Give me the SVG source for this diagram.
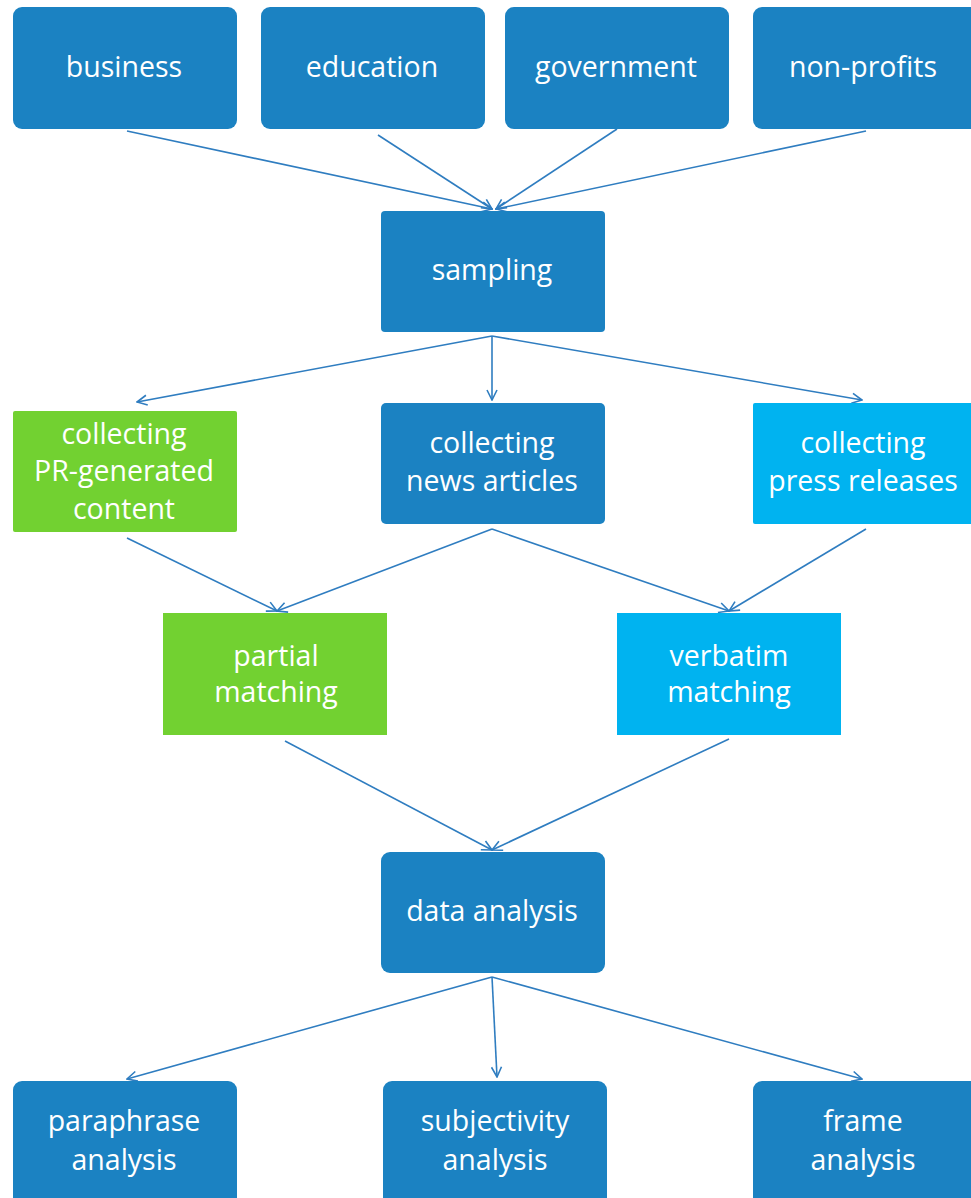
<svg xmlns="http://www.w3.org/2000/svg" width="971" height="1198" viewBox="0 0 971 1198">
<style>
.dk{fill:#1B82C2}
.gr{fill:#72D131}
.lb{fill:#00B3F0}
text{fill:#FFFFFF;font-family:"Open Sans","Noto Sans",sans-serif;font-size:28.5px;text-anchor:middle;dominant-baseline:central}
.c line{stroke:#2F7DC0;stroke-width:1.6;fill:none;marker-end:url(#ah)}
</style>
<defs>
<marker id="ah" viewBox="0 0 12 12" refX="11" refY="6" markerWidth="12" markerHeight="12" markerUnits="userSpaceOnUse" orient="auto">
<path d="M1,1 L11,6 L1,11" fill="none" stroke="#2F7DC0" stroke-width="1.6"/>
</marker>
</defs>
<g class="c" id="connectors">
<line x1="127" y1="131" x2="492" y2="209"/>
<line x1="378" y1="135" x2="492" y2="209"/>
<line x1="617" y1="129" x2="496" y2="209"/>
<line x1="866" y1="131" x2="496" y2="209"/>
<line x1="492" y1="336" x2="137" y2="402"/>
<line x1="492" y1="336" x2="492" y2="400"/>
<line x1="492" y1="336" x2="862" y2="400"/>
<line x1="127" y1="538" x2="277" y2="611"/>
<line x1="492" y1="529" x2="277" y2="611"/>
<line x1="492" y1="529" x2="729" y2="611"/>
<line x1="866" y1="529" x2="729" y2="611"/>
<line x1="285" y1="741" x2="492" y2="850"/>
<line x1="729" y1="739" x2="492" y2="850"/>
<line x1="492" y1="977" x2="127" y2="1079"/>
<line x1="492" y1="977" x2="497" y2="1077"/>
<line x1="492" y1="977" x2="862" y2="1079"/>
</g>
<g id="business"><rect class="dk" x="13" y="7" width="224" height="122" rx="9"/><text x="124" y="66">business</text></g>
<g id="education"><rect class="dk" x="261" y="7" width="224" height="122" rx="9"/><text x="372" y="66">education</text></g>
<g id="government"><rect class="dk" x="505" y="7" width="224" height="122" rx="9"/><text x="616" y="66">government</text></g>
<g id="non-profits"><rect class="dk" x="753" y="7" width="230" height="122" rx="9"/><text x="863" y="66">non-profits</text></g>
<g id="sampling"><rect class="dk" x="381" y="211" width="224" height="121" rx="4"/><text x="492" y="269">sampling</text></g>
<g id="collecting-pr"><rect class="gr" x="13" y="411" width="224" height="121" rx="2"/><text x="124" y="433">collecting</text><text x="124" y="470">PR-generated</text><text x="124" y="508">content</text></g>
<g id="collecting-news"><rect class="dk" x="381" y="403" width="224" height="121" rx="5"/><text x="492" y="442">collecting</text><text x="492" y="480">news articles</text></g>
<g id="collecting-press"><rect class="lb" x="753" y="403" width="230" height="121" rx="2"/><text x="863" y="442">collecting</text><text x="863" y="480">press releases</text></g>
<g id="partial"><rect class="gr" x="163" y="613" width="224" height="122"/><text x="276" y="655">partial</text><text x="276" y="691">matching</text></g>
<g id="verbatim"><rect class="lb" x="617" y="613" width="224" height="122"/><text x="729" y="655">verbatim</text><text x="729" y="691">matching</text></g>
<g id="data-analysis"><rect class="dk" x="381" y="852" width="224" height="121" rx="9"/><text x="492" y="910">data analysis</text></g>
<g id="paraphrase"><rect class="dk" x="13" y="1081" width="224" height="130" rx="9"/><text x="124" y="1120">paraphrase</text><text x="124" y="1159">analysis</text></g>
<g id="subjectivity"><rect class="dk" x="383" y="1081" width="224" height="130" rx="9"/><text x="495" y="1120">subjectivity</text><text x="495" y="1159">analysis</text></g>
<g id="frame"><rect class="dk" x="753" y="1081" width="230" height="130" rx="9"/><text x="863" y="1120">frame</text><text x="863" y="1159">analysis</text></g>
</svg>
